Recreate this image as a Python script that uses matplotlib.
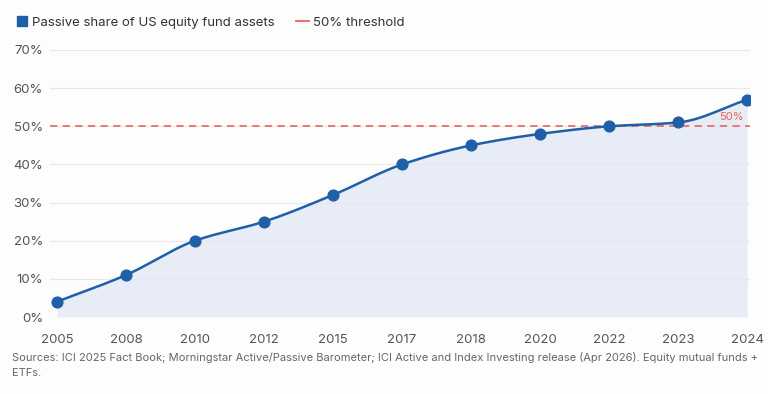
import numpy as np
import matplotlib.pyplot as plt
from matplotlib.lines import Line2D

plt.rcParams['font.family'] = ['Inter', 'DejaVu Sans']

years = ['2005', '2008', '2010', '2012', '2015', '2017', '2018', '2020', '2022', '2023', '2024']
passive_share = [4, 11, 20, 25, 32, 40, 45, 48, 50, 51, 57]
threshold = 50
y_ticks = [0, 10, 20, 30, 40, 50, 60, 70]

blue = '#1f5fa8'
red = '#e8605c'
grey = '#555555'


def monotone_curve(x, y, n=40):
    # Fritsch-Carlson monotone cubic, like a d3 curveMonotoneX
    x = np.asarray(x, float)
    y = np.asarray(y, float)
    h = np.diff(x)
    d = np.diff(y) / h
    m = np.zeros_like(y)
    m[0], m[-1] = d[0], d[-1]
    for i in range(1, len(y) - 1):
        if d[i - 1] * d[i] > 0:
            m[i] = 3 * (h[i - 1] + h[i]) / ((2 * h[i] + h[i - 1]) / d[i - 1] + (h[i] + 2 * h[i - 1]) / d[i])
    xs, ys = [], []
    for i in range(len(h)):
        t = np.linspace(0, 1, n)
        h00 = 2 * t**3 - 3 * t**2 + 1
        h10 = t**3 - 2 * t**2 + t
        h01 = -2 * t**3 + 3 * t**2
        h11 = t**3 - t**2
        xs.append(x[i] + t * h[i])
        ys.append(h00 * y[i] + h10 * h[i] * m[i] + h01 * y[i + 1] + h11 * h[i] * m[i + 1])
    return np.concatenate(xs), np.concatenate(ys)


fig = plt.figure(figsize=(7.68, 3.94), dpi=100, facecolor='#fdfdfd')
ax = fig.add_axes([50 / 768, 1 - 317 / 394, 700 / 768, 267 / 394])
ax.set_facecolor('#fdfdfd')

pos = np.arange(len(years))
cx, cy = monotone_curve(pos, passive_share)
ax.fill_between(cx, 0, cy, color='#e7ecf6', lw=0, zorder=1)
ax.plot(cx, cy, color=blue, lw=1.8, zorder=3)
ax.scatter(pos, passive_share, s=60, color=blue, zorder=4)

ax.axhline(threshold, color=red, lw=1.3, ls=(0, (4, 3)), alpha=0.9, zorder=2)
ax.text(pos[-1] - 0.05, threshold + 1.2, '50%', color=red, fontsize=8, ha='right', va='bottom')

ax.set_xlim(-0.1, len(years) - 1 + 0.04)
ax.set_ylim(0, 70)
ax.set_xticks(pos)
ax.set_xticklabels(years)
ax.set_yticks(y_ticks)
ax.set_yticklabels([f'{v}%' for v in y_ticks])
ax.tick_params(length=0, colors=grey, labelsize=9.5)
ax.tick_params(axis='x', pad=12)
ax.tick_params(axis='y', pad=5)
ax.grid(axis='y', color='#e8e8e8', lw=0.8, zorder=0)
for s in ax.spines.values():
    s.set_visible(False)

handles = [
    Line2D([], [], marker='s', color='none', markerfacecolor=blue, markeredgecolor=blue, markersize=6.5),
    Line2D([], [], color=red, lw=1.3),
]
fig.legend(handles, ['Passive share of US equity fund assets', '50% threshold'],
           loc='center left', bbox_to_anchor=(0.004, 1 - 23 / 394), ncol=2, frameon=False,
           fontsize=9.5, handlelength=1.0, handletextpad=0.3, columnspacing=1.6,
           labelcolor='#333333')

fig.text(12 / 768, 1 - 365 / 394,
         'Sources: ICI 2025 Fact Book; Morningstar Active/Passive Barometer; ICI Active and Index Investing release (Apr 2026). Equity mutual funds +\nETFs.',
         fontsize=8, color='#666666', va='center', linespacing=1.6)

fig.savefig('out.png', dpi=100, facecolor=fig.get_facecolor())
